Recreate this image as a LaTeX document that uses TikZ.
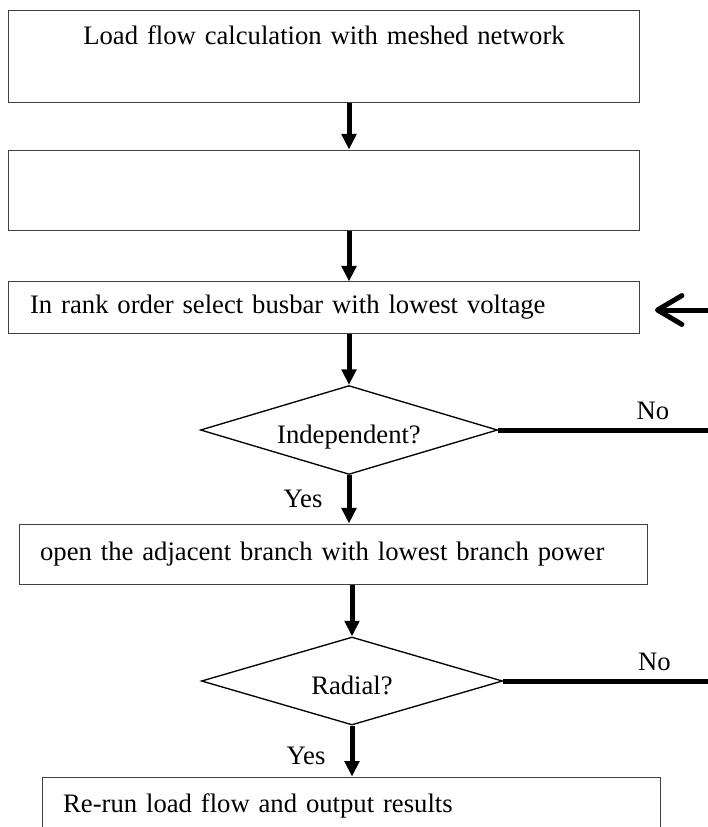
\documentclass[tikz,border=0pt]{standalone}
\usepackage{fontspec}
\setmainfont{Liberation Serif}
\usetikzlibrary{arrows.meta,positioning,shapes.geometric}
\tikzset{l/.style={font=\fontsize{12}{14}\selectfont}}
\tikzset{box/.style={l, draw=black!75, line width=.45pt, inner xsep=9.5pt, inner ysep=2pt, align=left}}
\tikzset{dec/.style={l, draw, diamond, aspect=3.3, inner sep=0pt, line width=.6pt, text height=14pt, text depth=2pt}}
\tikzset{fl/.style={line width=2.25pt, -{Triangle[length=7pt,width=6.5pt]}}}
\tikzset{no/.style={line width=2.25pt}}
\begin{document}
\begin{tikzpicture}[x=.45pt, y=-.45pt]
    \useasboundingbox (0,0) rectangle (708,827);
    \clip (0,0) rectangle (708,827);
    \node[box, align=center, text width=264.5pt, minimum height=41.4pt, text height=9pt, text depth=19.8pt] (b1) at (324,56) {Load flow calculation with meshed network};
    \node[box, text width=264.5pt, minimum height=36pt] (b2) at (324,190) {};
    \node[box, text width=264.5pt, minimum height=23pt] (b3) at (324,307.5) {In rank order select busbar with lowest voltage};
    \node[dec, minimum width=133.7pt, minimum height=40pt] (d1) at (349,430) {Independent?};
    \node[box, text width=264pt, minimum height=27pt] (b4) at (333.5,554) {open the adjacent branch with lowest branch power};
    \node[dec, minimum width=135.5pt, minimum height=39.6pt] (d2) at (352,681) {Radial?};
    \node[box, text width=259.5pt, minimum height=26pt] (b5) at (351.5,806) {Re-run load flow and output results};
    \coordinate (n1) at (712,430);
    \coordinate (n2) at (712,681);
    \coordinate (r0) at (712,310);
    \coordinate (r1) at (655,310);
    % main flow
    \draw[fl] (b1.south -| d1) -- (b2.north -| d1);
    \draw[fl] (b2.south -| d1) -- (b3.north -| d1);
    \draw[fl] (b3.south -| d1) -- (d1.north);
    \draw[fl] (d1.south) -- node[l, left=7.5pt, pos=.5] {Yes} (b4.north -| d1.south);
    \draw[fl] (b4.south -| d2) -- (d2.north);
    \draw[fl] (d2.south) -- node[l, left=7.5pt, pos=.6] {Yes} (b5.north -| d2.south);
    % loop back
    \draw[no] (d1.east) -- node[l, above, pos=.724] {No} (n1);
    \draw[no] (d2.east) -- node[l, above, pos=.724] {No} (n2);
    \draw[line width=2.25pt, line cap=round, -{Straight Barb[length=11pt,width=13pt,round]}] (r0) -- (r1);
\end{tikzpicture}
\end{document}
